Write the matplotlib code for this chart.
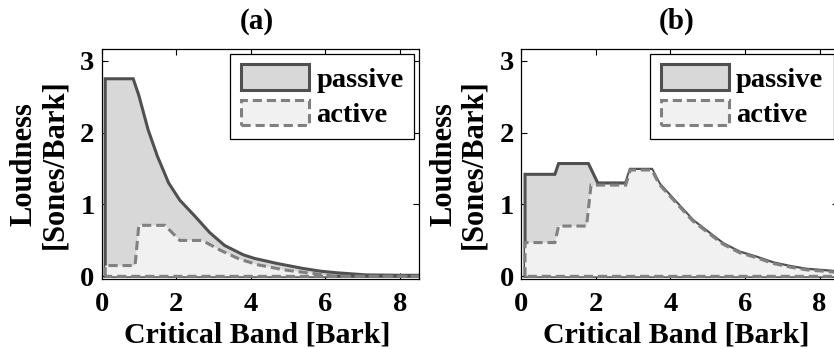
import matplotlib
matplotlib.use("Agg")
import matplotlib.pyplot as plt
from matplotlib.patches import Patch

# ---- specific loudness vs. critical-band rate (vertices of each curve) ----
# (a)
bark_a_passive = [0.1, 0.85, 1.0, 1.25, 1.5, 1.8, 2.1, 2.5, 2.9, 3.3, 3.8, 4.1,
                  4.7, 5.4, 5.9, 6.3, 7.1, 8.0, 9.0]
loud_a_passive = [2.75, 2.75, 2.52, 2.04, 1.67, 1.30, 1.06, 0.84, 0.61, 0.43, 0.30,
                  0.25, 0.18, 0.11, 0.07, 0.05, 0.02, 0.015, 0.015]
bark_a_active = [0.1, 0.9, 1.0, 1.7, 2.1, 2.7, 3.2, 3.7, 4.2, 4.9, 5.5, 6.0, 6.2, 9.0]
loud_a_active = [0.15, 0.15, 0.71, 0.71, 0.50, 0.50, 0.36, 0.24, 0.16, 0.09, 0.05,
                 0.02, 0.0, 0.0]

# (b)
bark_b_passive = [0.1, 0.9, 1.0, 1.8, 2.05, 2.8, 2.92, 3.5, 3.7, 4.05, 4.6, 5.05,
                  5.4, 5.85, 6.3, 6.75, 7.2, 7.65, 8.15, 8.6, 9.0]
loud_b_passive = [1.42, 1.42, 1.57, 1.57, 1.30, 1.30, 1.49, 1.49, 1.29, 1.09, 0.78,
                  0.60, 0.46, 0.34, 0.27, 0.19, 0.14, 0.10, 0.08, 0.06, 0.05]
bark_b_active = [0.1, 0.9, 1.0, 1.75, 1.87, 2.8, 2.92, 3.5, 3.7, 4.05, 4.6, 5.05,
                 5.4, 5.85, 6.3, 6.75, 7.2, 7.65, 8.15, 8.6, 9.0]
loud_b_active = [0.47, 0.47, 0.70, 0.70, 1.27, 1.27, 1.48, 1.48, 1.28, 1.08, 0.77,
                 0.59, 0.45, 0.33, 0.26, 0.18, 0.13, 0.09, 0.07, 0.05, 0.04]

series_labels = ["passive", "active"]
panel_titles = ["(a)", "(b)"]
x_ticks = [0, 2, 4, 6, 8]
y_ticks = [0, 1, 2, 3]
x_label = "Critical Band [Bark]"
y_label = "Loudness\n[Sones/Bark]"

FONT = "Liberation Serif"
plt.rcParams["font.family"] = [FONT, "DejaVu Serif"]
plt.rcParams["font.weight"] = "bold"

PASSIVE_EDGE, PASSIVE_FACE = "#505050", "#d8d8d8"
ACTIVE_EDGE, ACTIVE_FACE = "#808080", "#f1f1f1"
LW = 2.2
DASH = (0, (3.0, 1.6))

W, H = 834, 349
fig = plt.figure(figsize=(W / 100, H / 100), dpi=100)

ax_w, ax_h = 317 / W, 229.2 / H
ax_bottom = (H - 278.5) / H
axes = [fig.add_axes([101.5 / W, ax_bottom, ax_w, ax_h]),
        fig.add_axes([521.3 / W, ax_bottom, ax_w, ax_h])]


def closed(xs, ys):
    """Polygon of the area under a curve down to zero."""
    return [xs[0]] + list(xs) + [xs[-1]], [0.0] + list(ys) + [0.0]


panels = [
    (bark_a_passive, loud_a_passive, bark_a_active, loud_a_active),
    (bark_b_passive, loud_b_passive, bark_b_active, loud_b_active),
]

for ax, title, (xp, yp, xa, ya) in zip(axes, panel_titles, panels):
    px, py = closed(xp, yp)
    ax.fill(px, py, facecolor=PASSIVE_FACE, edgecolor=PASSIVE_EDGE,
            linewidth=LW, linestyle="-", joinstyle="miter", zorder=2)
    qx, qy = closed(xa, ya)
    ax.fill(qx, qy, facecolor=ACTIVE_FACE, edgecolor=ACTIVE_EDGE,
            linewidth=LW, linestyle=DASH, joinstyle="miter", zorder=3)

    ax.set_xlim(0, 8.5)
    ax.set_ylim(-0.03, 3.16)
    ax.set_xticks(x_ticks)
    ax.set_yticks(y_ticks)
    ax.tick_params(direction="in", length=4, width=0.8, top=True, right=True,
                   labelsize=20.5)
    ax.tick_params(axis="x", pad=10)
    ax.tick_params(axis="y", pad=5)
    for lab in ax.get_xticklabels() + ax.get_yticklabels():
        lab.set_fontweight("bold")
    for sp in ax.spines.values():
        sp.set_linewidth(0.9)
        sp.set_zorder(5)

    ax.text(0.49, 1.12, title, transform=ax.transAxes, ha="center", va="center",
            fontsize=21, fontweight="bold")
    ax.text(0.49, -0.248, x_label, transform=ax.transAxes, ha="center",
            va="center", fontsize=21.5, fontweight="bold")
    ax.text(-0.196, 0.50, y_label, transform=ax.transAxes, ha="center",
            va="center", rotation=90, multialignment="center", fontsize=22,
            fontweight="bold", linespacing=1.05)

    handles = [
        Patch(facecolor=PASSIVE_FACE, edgecolor=PASSIVE_EDGE, linewidth=LW,
              linestyle="-"),
        Patch(facecolor=ACTIVE_FACE, edgecolor=ACTIVE_EDGE, linewidth=LW,
              linestyle=DASH),
    ]
    leg = ax.legend(handles, series_labels, loc="upper right",
                    bbox_to_anchor=(1.0, 1.0), bbox_transform=ax.transAxes,
                    fancybox=False, framealpha=1, edgecolor="black",
                    borderaxespad=0.15, borderpad=0.38, handlelength=2.4,
                    handleheight=1.0, handletextpad=0.25, labelspacing=0.25,
                    prop={"family": FONT, "weight": "bold", "size": 20.5})
    leg.get_frame().set_linewidth(0.9)
    leg.set_zorder(6)

fig.savefig("out.png", dpi=100)
